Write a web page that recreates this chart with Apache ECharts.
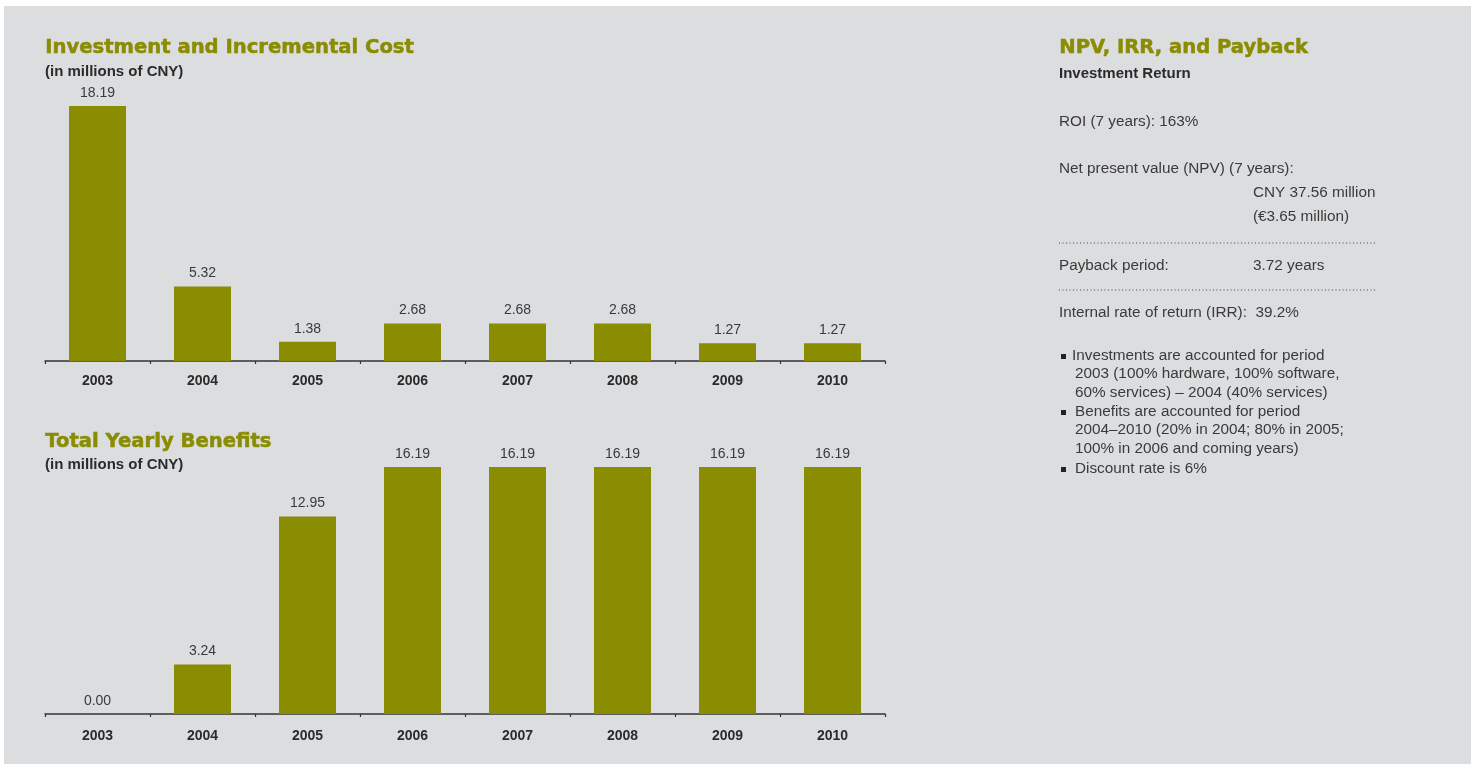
<!DOCTYPE html>
<html>
<head>
<meta charset="utf-8">
<script src="https://cdn.jsdelivr.net/npm/echarts@6/dist/echarts.min.js"></script>
<style>
  html, body { margin: 0; padding: 0; background: #fff; }
  #main { width: 1477px; height: 764px; }
</style>
</head>
<body>
<div id="main"></div>
<script>
// data
const years = ['2003', '2004', '2005', '2006', '2007', '2008', '2009', '2010'];
const investment = [18.19, 5.32, 1.38, 2.68, 2.68, 2.68, 1.27, 1.27];
const benefits = [0.00, 3.24, 12.95, 16.19, 16.19, 16.19, 16.19, 16.19];

const olive = '#8a8c02';
const ink = '#2b2b2b';
const heavy = { fontFamily: 'DejaVu Sans', fontWeight: 'bold', fontSize: 19.6, fill: olive, stroke: olive, lineWidth: 0.5 };
const sub = { fontFamily: 'Liberation Sans', fontWeight: 'bold', fontSize: 15, fill: ink };
const body = { fontFamily: 'Liberation Sans', fontSize: 15.3, fill: '#3a3a3a' };

function txt(x, y, text, style) {
  return { type: 'text', left: x, top: y, style: Object.assign({ text: text }, style) };
}

function axisX(gridIndex, margin) {
  return {
    type: 'category',
    gridIndex: gridIndex,
    data: years,
    axisLine: { lineStyle: { color: '#333', width: 1.5 } },
    axisTick: { show: true, length: 3, lineStyle: { color: '#333', width: 1.2 } },
    axisLabel: { color: ink, fontFamily: 'Liberation Sans', fontWeight: 'bold', fontSize: 14, margin: margin }
  };
}

function axisY(gridIndex) {
  return { type: 'value', gridIndex: gridIndex, min: 0, max: 'dataMax', show: false, splitLine: { show: false } };
}

function bars(data, i) {
  return {
    type: 'bar',
    xAxisIndex: i,
    yAxisIndex: i,
    data: data,
    barWidth: 57,
    itemStyle: { color: olive },
    label: {
      show: true,
      position: 'top',
      distance: 6,
      color: '#3a3a3a',
      fontFamily: 'Liberation Sans',
      fontSize: 14,
      formatter: p => p.value.toFixed(2)
    },
    silent: true,
    animation: false
  };
}

const dots = (y) => ({
  type: 'line',
  shape: { x1: 1059, y1: y, x2: 1376, y2: y },
  style: { stroke: '#444', lineWidth: 1, lineDash: [1, 2.5] }
});

const bullet = (y) => ({ type: 'rect', shape: { x: 1061, y: y, width: 5, height: 5 }, style: { fill: '#222' } });

const chart = echarts.init(document.getElementById('main'));
chart.setOption({
  backgroundColor: '#fff',
  animation: false,
  grid: [
    { left: 45, right: 592, top: 106, bottom: 403 },
    { left: 45, right: 592, top: 467, bottom: 50 }
  ],
  xAxis: [axisX(0, 13), axisX(1, 15)],
  yAxis: [axisY(0), axisY(1)],
  series: [bars(investment, 0), bars(benefits, 1)],
  graphic: [
    { type: 'rect', z: -10, shape: { x: 4, y: 6, width: 1467, height: 758 }, style: { fill: '#dcdddf' } },
    txt(45, 38, 'Investment and Incremental Cost', heavy),
    txt(45, 64, '(in millions of CNY)', sub),
    txt(45, 432, 'Total Yearly Benefits', heavy),
    txt(45, 457, '(in millions of CNY)', sub),
    txt(1059, 38, 'NPV, IRR, and Payback', heavy),
    txt(1059, 66, 'Investment Return', sub),
    txt(1059, 114, 'ROI (7 years): 163%', body),
    txt(1059, 161, 'Net present value (NPV) (7 years):', body),
    txt(1253, 185, 'CNY 37.56 million', body),
    txt(1253, 209, '(€3.65 million)', body),
    dots(243),
    txt(1059, 258, 'Payback period:', body),
    txt(1253, 258, '3.72 years', body),
    dots(290),
    txt(1059, 305, 'Internal rate of return (IRR):  39.2%', body),
    bullet(354),
    txt(1072, 348, 'Investments are accounted for period', body),
    txt(1075, 366, '2003 (100% hardware, 100% software,', body),
    txt(1075, 385, '60% services) – 2004 (40% services)', body),
    bullet(410),
    txt(1075, 404, 'Benefits are accounted for period', body),
    txt(1075, 422, '2004–2010 (20% in 2004; 80% in 2005;', body),
    txt(1075, 441, '100% in 2006 and coming years)', body),
    bullet(467),
    txt(1075, 461, 'Discount rate is 6%', body)
  ]
});
</script>
</body>
</html>
